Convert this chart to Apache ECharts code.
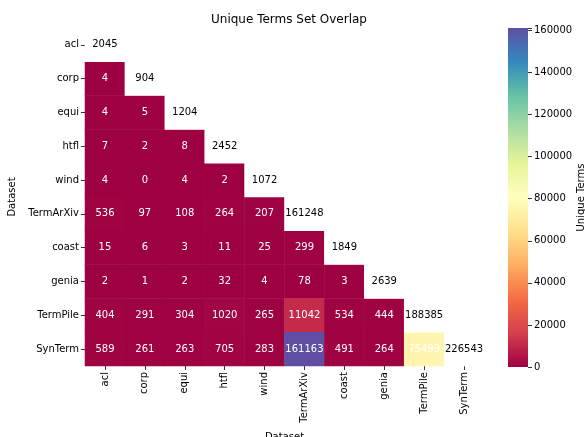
<!DOCTYPE html>
<html>
<head>
<meta charset="utf-8">
<script src="https://cdn.jsdelivr.net/npm/echarts@6/dist/echarts.min.js"></script>
<style>
  html, body { margin: 0; padding: 0; background: #fff; }
  #chart { width: 585px; height: 437px; }
</style>
</head>
<body>
<div id="chart"></div>
<script>
// datasets, same order on both axes
const datasets = ['acl', 'corp', 'equi', 'htfl', 'wind', 'TermArXiv', 'coast', 'genia', 'TermPile', 'SynTerm'];
// unique terms per dataset (diagonal)
const uniqueTerms = [2045, 904, 1204, 2452, 1072, 161248, 1849, 2639, 188385, 226543];
// overlaps below the diagonal, one row per dataset
const overlapRows = [
    [],
    [4],
    [4, 5],
    [7, 2, 8],
    [4, 0, 4, 2],
    [536, 97, 108, 264, 207],
    [15, 6, 3, 11, 25, 299],
    [2, 1, 2, 32, 4, 78, 3],
    [404, 291, 304, 1020, 265, 11042, 534, 444],
    [589, 261, 263, 705, 283, 161163, 491, 264, 75499]
];
const colorTicks = [0, 20000, 40000, 60000, 80000, 100000, 120000, 140000, 160000];
const spectral = ['#9e0142', '#d53e4f', '#f46d43', '#fdae61', '#fee08b', '#ffffbf',
    '#e6f598', '#abdda4', '#66c2a5', '#3288bd', '#5e4fa2'];

const offDiag = [];
overlapRows.forEach((row, i) => row.forEach((v, j) => offDiag.push([j, i, v])));
const diag = uniqueTerms.map((v, i) => [i, i, v]);
const vmax = Math.max(...offDiag.map(d => d[2]));

// colour bar box (same as grid 1)
const cb = { left: 508, top: 28, width: 20, height: 339 };
const stops = spectral.map((c, i) => ({ offset: 1 - i / (spectral.length - 1), color: c }));

const font = 'DejaVu Sans';
let myChart = echarts.init(document.getElementById('chart'));
const option = {
    animation: false,
    textStyle: { fontFamily: font },
    title: {
        text: 'Unique Terms Set Overlap',
        left: 284, top: 9, textAlign: 'center',
        textStyle: { fontFamily: font, fontSize: 12, fontWeight: 'normal', color: '#000' }
    },
    grid: [
        { left: 85, top: 28, width: 399, height: 338, outerBoundsMode: 'none', containLabel: false },
        Object.assign({ outerBoundsMode: 'none', containLabel: false }, cb)
    ],
    graphic: [{
        type: 'rect', left: cb.left, top: cb.top, z: -1,
        shape: { width: cb.width, height: cb.height },
        style: { fill: new echarts.graphic.LinearGradient(0, 0, 0, 1, stops.slice().reverse()) }
    }],
    xAxis: [
        {
            type: 'category', data: datasets, gridIndex: 0,
            splitArea: { show: false },
            axisLine: { show: false },
            axisTick: { show: true, alignWithLabel: true, length: 4, lineStyle: { color: '#333' } },
            axisLabel: { rotate: 90, fontSize: 10, color: '#000', margin: 6, interval: 0 },
            name: 'Dataset', nameLocation: 'middle', nameGap: 66,
            nameTextStyle: { fontSize: 10, color: '#000' }
        },
        { type: 'value', gridIndex: 1, show: false, min: 0, max: 1 }
    ],
    yAxis: [
        {
            type: 'category', data: datasets, gridIndex: 0, inverse: true,
            axisLine: { show: false },
            axisTick: { show: true, alignWithLabel: true, length: 4, lineStyle: { color: '#333' } },
            axisLabel: { fontSize: 10, color: '#000', margin: 6, interval: 0 },
            name: 'Dataset', nameLocation: 'middle', nameGap: 65, nameRotate: 90,
            nameTextStyle: { fontSize: 10, color: '#000' }
        },
        {
            type: 'value', gridIndex: 1, position: 'right', min: 0, max: vmax,
            interval: 20000,
            axisLine: { show: false, onZero: false },
            splitLine: { show: false },
            axisTick: { show: true, length: 4, lineStyle: { color: '#333' } },
            axisLabel: {
                fontSize: 10, color: '#000', margin: 6,
                formatter: v => colorTicks.includes(v) ? String(v) : ''
            },
            name: 'Unique Terms', nameLocation: 'middle', nameGap: 48, nameRotate: 90,
            nameTextStyle: { fontSize: 10, color: '#000' }
        }
    ],
    visualMap: {
        type: 'continuous', seriesIndex: 0, show: false,
        min: 0, max: vmax,
        inRange: { color: spectral }
    },
    series: [
        {
            type: 'heatmap', xAxisIndex: 0, yAxisIndex: 0,
            data: offDiag,
            itemStyle: { borderWidth: 0 },
            label: { show: true, color: '#fff', fontSize: 10, fontFamily: font },
            emphasis: { disabled: true }
        },
        {
            type: 'heatmap', xAxisIndex: 0, yAxisIndex: 0,
            data: diag,
            itemStyle: { color: '#fff', borderWidth: 0 },
            label: { show: true, color: '#000', fontSize: 10, fontFamily: font },
            emphasis: { disabled: true }
        }
    ]
};
myChart.setOption(option);
</script>
</body>
</html>
